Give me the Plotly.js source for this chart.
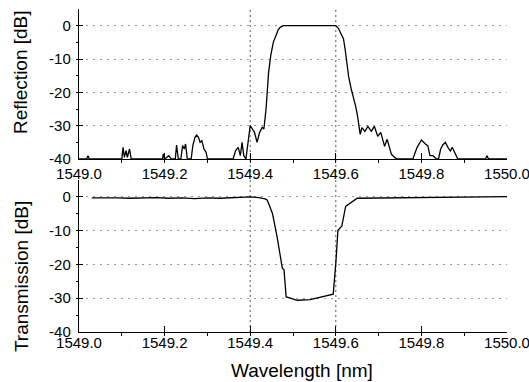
<!DOCTYPE html>
<html>
<head>
<meta charset="utf-8">
<script src="https://cdn.plot.ly/plotly-3.0.1.min.js"></script>
<style>html,body{margin:0;padding:0;background:#fff;}#chart{width:529px;height:382px;}</style>
</head>
<body>
<div id="chart"></div>
<script>
// Reflection spectrum (top panel)
const reflWavelength = [
  1549.000, 1549.018, 1549.021, 1549.024, 1549.100, 1549.103, 1549.106, 1549.110, 1549.113, 1549.118, 1549.122,
  1549.130, 1549.195, 1549.197, 1549.200, 1549.210, 1549.215, 1549.225, 1549.228, 1549.232, 1549.238, 1549.242,
  1549.246, 1549.249, 1549.253, 1549.262, 1549.266, 1549.271, 1549.275, 1549.279, 1549.283, 1549.287, 1549.292,
  1549.297, 1549.300, 1549.360, 1549.366, 1549.372, 1549.377, 1549.381, 1549.385, 1549.390, 1549.395, 1549.400,
  1549.405, 1549.410, 1549.416, 1549.422, 1549.428, 1549.432, 1549.437, 1549.443, 1549.448, 1549.454, 1549.460,
  1549.465, 1549.470, 1549.477, 1549.520, 1549.560, 1549.600, 1549.606, 1549.612, 1549.618, 1549.622, 1549.626,
  1549.630, 1549.636, 1549.641, 1549.646, 1549.650, 1549.655, 1549.657, 1549.661, 1549.668, 1549.675, 1549.683,
  1549.690, 1549.698, 1549.705, 1549.714, 1549.720, 1549.730, 1549.738, 1549.745, 1549.780, 1549.785, 1549.790,
  1549.800, 1549.805, 1549.810, 1549.815, 1549.820, 1549.827, 1549.835, 1549.840, 1549.845, 1549.850, 1549.856,
  1549.862, 1549.868, 1549.872, 1549.880, 1549.885, 1549.950, 1549.953, 1549.957, 1550.000
];
const reflDb = [
  -40, -40, -39, -40, -40, -36.5, -39.5, -37.5, -39.5, -37, -40,
  -40, -40, -38.5, -40, -39, -40, -40, -35.8, -40, -40, -36,
  -37, -35.5, -40, -40, -36, -33.5, -32.8, -33.5, -35, -34.5, -37,
  -38, -40, -40, -37.5, -36.5, -39, -35, -39, -40, -34, -30,
  -31, -32, -35, -32, -30.5, -31, -25, -14, -9, -5, -3,
  -1.3, -0.5, 0, 0, 0, 0, -0.8, -2.2, -4, -7.3, -11,
  -15.3, -19, -21.3, -24, -26.5, -30, -32.6, -30.6, -31.7, -30.2, -31.7,
  -30.2, -33.2, -32, -36.2, -34.1, -38.6, -39.6, -40, -40, -38, -36.5,
  -34.3, -35, -35.6, -36, -39, -39, -40, -40, -37, -35.8, -35,
  -36.5, -37.6, -36.5, -39, -40, -40, -39, -40, -40
];

// Transmission spectrum (bottom panel)
const transWavelength = [
  1549.030, 1549.060, 1549.090, 1549.120, 1549.150, 1549.180, 1549.210, 1549.240, 1549.270, 1549.300,
  1549.330, 1549.360, 1549.385, 1549.400, 1549.420, 1549.435, 1549.440, 1549.452, 1549.463, 1549.475,
  1549.479, 1549.484, 1549.490, 1549.510, 1549.540, 1549.570, 1549.594, 1549.600, 1549.605, 1549.614,
  1549.623, 1549.650, 1549.700, 1549.750, 1549.800, 1549.850, 1549.900, 1549.950, 1550.000
];
const transDb = [
  -0.3, -0.2, -0.3, -0.4, -0.3, -0.2, -0.4, -0.3, -0.5, -0.3,
  -0.4, -0.2, -0.1, 0, -0.2, -0.6, -1.0, -4.9, -11.9, -21.1,
  -21.6, -29.6, -29.8, -30.6, -30.4, -29.6, -28.8, -19.7, -9.9, -8.7,
  -2.8, -0.4, -0.3, -0.2, -0.1, -0.2, 0, 0.1, 0.1
];

// Axis ticks / labels
const xRange = [1549.0, 1550.0];
const yRange = [-40, 5];
const xTickVals = [1549.0, 1549.2, 1549.4, 1549.6, 1549.8, 1550.0];
const xTickText = ["1549.0", "1549.2", "1549.4", "1549.6", "1549.8", "1550.0"];
const yTickVals = [0, -10, -20, -30, -40];
const yTickText = ["0", "-10", "-20", "-30", "-40"];
const markerWavelengths = [1549.4, 1549.6];
const reflTitle = "Reflection [dB]";
const transTitle = "Transmission [dB]";
const xTitle = "Wavelength [nm]";

const FONT = "Liberation Sans, Arial, sans-serif";
const tickFont = {family: FONT, size: 15, color: "#000"};

function xAxis(anchor, standoff) {
  return {
    anchor: anchor, domain: [0, 1], range: xRange, tickmode: "array", tickvals: xTickVals, ticktext: xTickText,
    showline: true, linecolor: "#000", linewidth: 1.2, showgrid: false, zeroline: false,
    ticks: "inside", ticklen: 6, tickwidth: 1, tickcolor: "#000",
    minor: {dtick: 0.1, tick0: 1549.0, ticks: "outside", ticklen: 3, tickcolor: "#000"},
    tickfont: tickFont, ticklabeloverflow: "allow", ticklabelstandoff: standoff, fixedrange: true
  };
}
function yAxis(anchor, domain) {
  return {
    anchor: anchor, domain: domain, range: yRange, tickmode: "array", tickvals: yTickVals, ticktext: yTickText,
    showline: true, linecolor: "#000", linewidth: 1.2, zeroline: false,
    showgrid: true, gridcolor: "#999", griddash: "2px,5px", gridwidth: 1,
    ticks: "inside", ticklen: 4, tickwidth: 1, tickcolor: "#000",
    minor: {dtick: 5, tick0: 0, ticks: "outside", ticklen: 2, tickcolor: "#000"},
    tickfont: tickFont, ticklabelstandoff: 4, ticklabeloverflow: "allow", fixedrange: true
  };
}
function crossX(over, anchor) {
  return {overlaying: over, anchor: anchor, range: xRange, tickmode: "array", tickvals: xTickVals,
    ticks: "outside", ticklen: 5, tickcolor: "#000", showticklabels: false, showline: false,
    showgrid: false, zeroline: false, fixedrange: true};
}
function crossY(over, anchor) {
  return {overlaying: over, anchor: anchor, range: yRange, tickmode: "array", tickvals: yTickVals,
    ticks: "outside", ticklen: 4, tickcolor: "#000", showticklabels: false, showline: false,
    showgrid: false, zeroline: false, fixedrange: true};
}

const traces = [
  {x: reflWavelength, y: reflDb, xaxis: "x", yaxis: "y", type: "scatter", mode: "lines",
   line: {color: "#000", width: 1.3}, showlegend: false, hoverinfo: "skip"},
  {x: transWavelength, y: transDb, xaxis: "x2", yaxis: "y2", type: "scatter", mode: "lines",
   line: {color: "#000", width: 1.3}, showlegend: false, hoverinfo: "skip"}
];

const shapes = markerWavelengths.map(w => ({
  type: "line", xref: "x", yref: "paper", x0: w, x1: w, y0: 0, y1: 1,
  line: {color: "#555", width: 1, dash: "2px,3px"}, layer: "below"
}));

const layout = {
  width: 529, height: 382,
  margin: {l: 79, r: 22, t: 9, b: 50},
  paper_bgcolor: "#fff", plot_bgcolor: "rgba(0,0,0,0)",
  showlegend: false,
  xaxis: xAxis("y", 1),
  yaxis: yAxis("x", [0.5356, 1]),
  xaxis2: xAxis("y2", -3),
  yaxis2: yAxis("x2", [0, 0.4706]),
  xaxis3: crossX("x", "y"),
  yaxis3: crossY("y", "x"),
  xaxis4: crossX("x2", "y2"),
  yaxis4: crossY("y2", "x2"),
  shapes: shapes,
  annotations: [
    {text: reflTitle, xref: "paper", yref: "paper", x: -0.1355, y: 0.805, textangle: -90,
     showarrow: false, xanchor: "center", yanchor: "middle", font: {family: FONT, size: 19, color: "#000"}},
    {text: transTitle, xref: "paper", yref: "paper", x: -0.1355, y: 0.170, textangle: -90,
     showarrow: false, xanchor: "center", yanchor: "middle", font: {family: FONT, size: 19, color: "#000"}},
    {text: xTitle, xref: "paper", yref: "paper", x: 0.521, y: -0.1207,
     showarrow: false, xanchor: "center", yanchor: "middle", font: {family: FONT, size: 19, color: "#000"}}
  ]
};

Plotly.newPlot("chart", traces, layout, {staticPlot: true, displayModeBar: false});
</script>
</body>
</html>
